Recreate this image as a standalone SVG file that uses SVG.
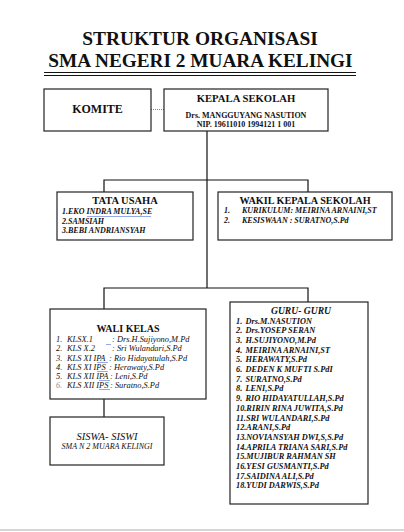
<svg xmlns="http://www.w3.org/2000/svg" width="404" height="532" viewBox="0 0 404 532">
<style>
.box{fill:#fff;stroke:#222;stroke-width:1.2}
.ln{stroke:#111;stroke-width:1.2;fill:none}
.t{font-family:"Liberation Serif","Times New Roman",serif;fill:#111}
.b{font-weight:bold}
.i{font-style:italic}
.sq{fill:none;stroke:#4a6fd8;stroke-width:0.6}
</style>
<rect width="404" height="532" fill="#fff"/>
<line x1="0" y1="530" x2="404" y2="530" stroke="#c8c8c8" stroke-width="1.5"/>

<g id="title">
<text class="t b" x="200" y="45" font-size="19.4" text-anchor="middle">STRUKTUR ORGANISASI</text>
<text class="t b" x="200.5" y="67" font-size="19.3" text-anchor="middle">SMA NEGERI 2 MUARA KELINGI</text>
<line x1="44" y1="72.5" x2="356" y2="72.5" stroke="#111" stroke-width="1"/>
<line x1="44" y1="75.5" x2="356" y2="75.5" stroke="#111" stroke-width="1"/>
</g>

<g id="connectors">
<line x1="151" y1="109.5" x2="164" y2="109.5" stroke="#666" stroke-width="0.8" stroke-dasharray="1 1"/>
<path class="ln" d="M207 131V288M104 192V180H308V192M104 309V288H308V302M104 392V417"/>
</g>

<g id="komite">
<rect class="box" x="44" y="89" width="107" height="42"/>
<text class="t b" x="97.5" y="112.5" font-size="12" text-anchor="middle">KOMITE</text>
</g>

<g id="kepala">
<rect class="box" x="164" y="89" width="164" height="42"/>
<text class="t b" x="246" y="101.5" font-size="10.7" text-anchor="middle">KEPALA SEKOLAH</text>
<text class="t b" x="246" y="118" font-size="8" text-anchor="middle">Drs. MANGGUYANG NASUTION</text>
<text class="t b" x="246" y="127" font-size="8" text-anchor="middle">NIP. 19611010 1994121 1 001</text>
</g>

<g id="tata-usaha">
<rect class="box" x="57" y="192" width="136" height="48"/>
<text class="t b" x="125" y="204" font-size="10.5" text-anchor="middle">TATA USAHA</text>
<text class="t b i" font-size="8"><tspan x="62" y="214">1.EKO INDRA  MULYA,SE</tspan><tspan x="62" y="223.5">2.SAMSIAH</tspan><tspan x="62" y="233">3.BEBI ANDRIANSYAH</tspan></text>
<path class="sq" d="M87 216l1 1l1-1l1 1l1-1l1 1l1-1l1 1l1-1l1 1l1-1l1 1l1-1l1 1l1-1l1 1l1-1l1 1l1-1l1 1l1-1l1 1l1-1l1 1l1-1l1 1l1-1l1 1l1-1l1 1l1-1l1 1l1-1l1 1l1-1l1 1l1-1l1 1l1-1l1 1l1-1l1 1l1-1l1 1l1-1l1 1l1-1l1 1l1-1l1 1l1-1l1 1l1-1l1 1l1-1l1 1l1-1l1 1l1-1l1 1l1-1l1 1l1-1l1 1l1-1"/>
</g>

<g id="wakil">
<rect class="box" x="218" y="192" width="174" height="48"/>
<text class="t b" x="305" y="204" font-size="10.2" text-anchor="middle">WAKIL KEPALA SEKOLAH</text>
<text class="t b i" font-size="8"><tspan x="224" y="213">1.</tspan><tspan x="242" y="213">KURIKULUM: MEIRINA ARNAINI,ST</tspan><tspan x="224" y="223">2.</tspan><tspan x="242" y="223">KESISWAAN : SURATNO,S.Pd</tspan></text>
</g>

<g id="wali-kelas">
<rect class="box" x="50" y="309" width="156" height="90"/>
<text class="t b" x="128" y="332" font-size="10" text-anchor="middle">WALI KELAS</text>
<text class="t i" font-size="8.4">
<tspan x="56" y="342">1.</tspan><tspan x="67" y="342">KLSX.1</tspan><tspan x="112" y="342">: Drs.H.Sujiyono,M.Pd</tspan>
<tspan x="56" y="351">2.</tspan><tspan x="67" y="351">KLS X.2</tspan><tspan x="112" y="351">: Sri Wulandari,S.Pd</tspan>
<tspan x="56" y="360.5">3.</tspan><tspan x="67" y="360.5">KLS XI IPA</tspan><tspan x="109" y="360.5">: Rio Hidayatulah,S.Pd</tspan>
<tspan x="56" y="369.5">4.</tspan><tspan x="67" y="369.5">KLS XI IPS</tspan><tspan x="109" y="369.5">: Herawaty,S.Pd</tspan>
<tspan x="56" y="378.5">5.</tspan><tspan x="67" y="378.5">KLS XII IPA</tspan><tspan x="110" y="378.5">: Leni,S.Pd</tspan>
<tspan x="56" y="387.5" fill="#888">6.</tspan><tspan x="67" y="387.5">KLS XII IPS</tspan><tspan x="110" y="387.5">: Suratno,S.Pd</tspan>
</text>
<path class="sq" d="M106 344l1 1l1-1l1 1l1-1l1 1M97 362l1 1l1-1l1 1l1-1l1 1l1-1l1 1l1-1l1 1l1-1l1 1M97 371l1 1l1-1l1 1l1-1l1 1l1-1l1 1l1-1l1 1l1-1l1 1M99 380l1 1l1-1l1 1l1-1l1 1l1-1l1 1l1-1l1 1l1-1l1 1M99 389l1 1l1-1l1 1l1-1l1 1l1-1l1 1l1-1l1 1l1-1l1 1"/>
</g>

<g id="siswa">
<rect class="box" x="50" y="417" width="114" height="48"/>
<text class="t i" x="107" y="440" font-size="10.5" text-anchor="middle">SISWA- SISWI</text>
<text class="t i" x="107" y="449" font-size="8" text-anchor="middle">SMA N 2 MUARA KELINGI</text>
</g>

<g id="guru">
<rect class="box" x="230" y="302" width="138" height="202"/>
<text class="t b i" x="301" y="314" font-size="9.6" text-anchor="middle">GURU- GURU</text>
<text class="t b i" font-size="8.3">
<tspan x="236" y="323.5">1.</tspan><tspan x="245.5" y="323.5">Drs.M.NASUTION</tspan>
<tspan x="236" y="333.2">2.</tspan><tspan x="245.5" y="333.2">Drs.YOSEP SERAN</tspan>
<tspan x="236" y="342.9">3.</tspan><tspan x="245.5" y="342.9">H.SUJIYONO,M.Pd</tspan>
<tspan x="236" y="352.6">4.</tspan><tspan x="245.5" y="352.6">MEIRINA ARNAINI,ST</tspan>
<tspan x="236" y="362.3">5.</tspan><tspan x="245.5" y="362.3">HERAWATY,S.Pd</tspan>
<tspan x="236" y="372">6.</tspan><tspan x="245.5" y="372">DEDEN K MUFTI S.PdI</tspan>
<tspan x="236" y="381.7">7.</tspan><tspan x="245.5" y="381.7">SURATNO,S.Pd</tspan>
<tspan x="236" y="391.4">8.</tspan><tspan x="245.5" y="391.4">LENI,S.Pd</tspan>
<tspan x="236" y="401.1">9.</tspan><tspan x="245.5" y="401.1">RIO HIDAYATULLAH,S.Pd</tspan>
<tspan x="236" y="410.8">10.RIRIN RINA JUWITA,S.Pd</tspan>
<tspan x="236" y="420.5">11.SRI WULANDARI,S.Pd</tspan>
<tspan x="236" y="430.2">12.ARANI,S.Pd</tspan>
<tspan x="236" y="439.9">13.NOVIANSYAH DWI,S,S.Pd</tspan>
<tspan x="236" y="449.6">14.APRILA TRIANA SARI,S.Pd</tspan>
<tspan x="236" y="459.3">15.MUJIBUR RAHMAN SH</tspan>
<tspan x="236" y="469">16.YESI GUSMANTI,S.Pd</tspan>
<tspan x="236" y="478.7">17.SAIDINA ALI,S.Pd</tspan>
<tspan x="236" y="488.4">18.YUDI DARWIS,S.Pd</tspan>
</text>
</g>
</svg>
